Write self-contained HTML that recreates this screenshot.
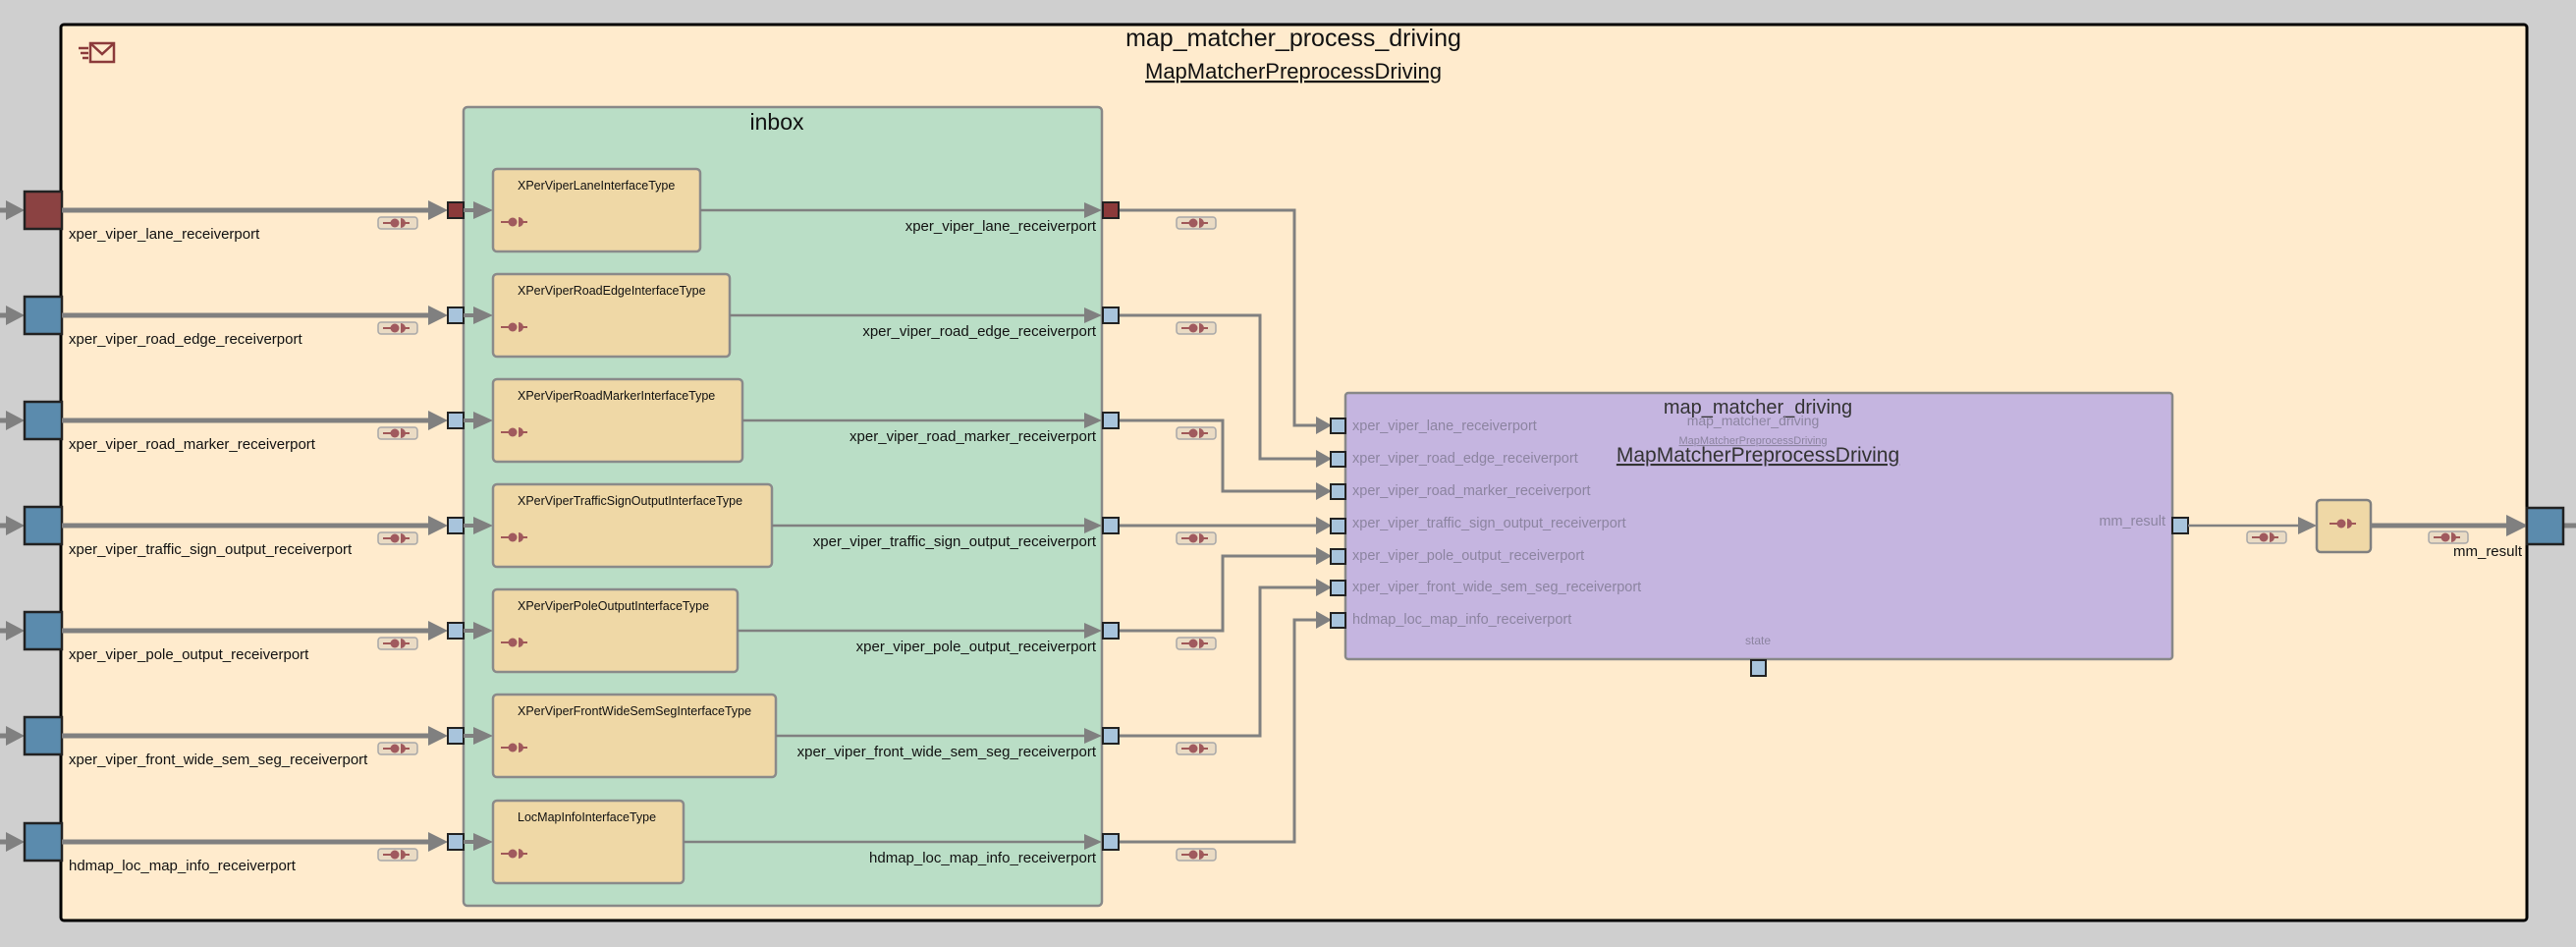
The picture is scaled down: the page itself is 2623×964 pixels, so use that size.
<!DOCTYPE html>
<html><head><meta charset="utf-8"><style>
html,body{margin:0;padding:0;background:#cfcfcf;}
svg{display:block;font-family:"Liberation Sans",Arial,sans-serif;}
</style></head><body>
<svg width="2623" height="964" viewBox="0 0 2623 964" xmlns="http://www.w3.org/2000/svg">
<defs>
<g id="ic"><line x1="-12" y1="0" x2="-4" y2="0" stroke="#a05858" stroke-width="2"/><circle cx="0" cy="0" r="4.5" fill="#a05a5e"/><path d="M6,-5 A5,5 0 0 1 6,5 Z" fill="#a05a5e"/><line x1="6" y1="0" x2="15" y2="0" stroke="#a05858" stroke-width="2"/></g>
<g id="chip"><rect x="0" y="0" width="40" height="12" rx="3" fill="#eadbc4" stroke="#a8a8a8" stroke-width="1.5"/><use href="#ic" x="17" y="6"/></g>
</defs>
<rect width="2623" height="964" fill="#cfcfcf"/>
<rect x="62" y="25" width="2511" height="912" rx="3" fill="#ffebcd" stroke="#000" stroke-width="3"/>
<text x="1317" y="47" font-size="25" text-anchor="middle" fill="#111">map_matcher_process_driving</text>
<text x="1317" y="80" font-size="22" text-anchor="middle" fill="#111" text-decoration="underline">MapMatcherPreprocessDriving</text>
<!-- envelope -->
<g stroke="#8b3a3a" stroke-width="2.5" fill="none"><rect x="92" y="44" width="24" height="19"/><polyline points="92,44 104,55 116,44"/><line x1="80" y1="49" x2="90" y2="49"/><line x1="82" y1="54" x2="90" y2="54"/><line x1="84" y1="59" x2="90" y2="59"/></g>
<!-- inbox -->
<rect x="472" y="109" width="650" height="813" rx="4" fill="#badec6" stroke="#888" stroke-width="2.5"/>
<text x="791" y="132" font-size="23" text-anchor="middle" fill="#111">inbox</text>
<!-- map_matcher_driving -->
<rect x="1370" y="400" width="842" height="271" rx="3" fill="#c5b5e0" stroke="#888" stroke-width="2.5"/>
<text x="1790" y="421" font-size="20" text-anchor="middle" fill="#333">map_matcher_driving</text>
<text x="1785" y="433" font-size="14" text-anchor="middle" fill="#8c84a0">map_matcher_driving</text>
<text x="1785" y="452" font-size="11" text-anchor="middle" fill="#8c84a0" text-decoration="underline">MapMatcherPreprocessDriving</text>
<text x="1790" y="470" font-size="21" text-anchor="middle" fill="#333" text-decoration="underline">MapMatcherPreprocessDriving</text>
<text x="1790" y="656" font-size="12" text-anchor="middle" fill="#8c84a0">state</text>
<rect x="1783" y="672" width="15" height="16" fill="#a8c4dc" stroke="#222" stroke-width="2"/>
<g font-size="14.5" fill="#8c84a0">
<text x="1377" y="438">xper_viper_lane_receiverport</text>
<text x="1377" y="471">xper_viper_road_edge_receiverport</text>
<text x="1377" y="504">xper_viper_road_marker_receiverport</text>
<text x="1377" y="537">xper_viper_traffic_sign_output_receiverport</text>
<text x="1377" y="570">xper_viper_pole_output_receiverport</text>
<text x="1377" y="602">xper_viper_front_wide_sem_seg_receiverport</text>
<text x="1377" y="635">hdmap_loc_map_info_receiverport</text>
<text x="2205" y="535" text-anchor="end">mm_result</text>
</g>
<!-- connectors to mm -->
<g stroke="#808080" stroke-width="3" fill="none">
<polyline points="1139,214 1318,214 1318,433 1342,433"/>
<polyline points="1139,321 1283,321 1283,467 1342,467"/>
<polyline points="1139,428 1245,428 1245,500 1342,500"/>
<polyline points="1139,535 1342,535"/>
<polyline points="1139,642 1245,642 1245,566 1342,566"/>
<polyline points="1139,749 1283,749 1283,598 1342,598"/>
<polyline points="1139,857 1318,857 1318,631 1342,631"/>
</g>
<g fill="#808080">
<polygon points="1340,424 1356,433 1340,442"/>
<polygon points="1340,458 1356,467 1340,476"/>
<polygon points="1340,491 1356,500 1340,509"/>
<polygon points="1340,526 1356,535 1340,544"/>
<polygon points="1340,557 1356,566 1340,575"/>
<polygon points="1340,589 1356,598 1340,607"/>
<polygon points="1340,622 1356,631 1340,640"/>
</g>
<g fill="#a8c4dc" stroke="#222" stroke-width="2">
<rect x="1355" y="426" width="15" height="15"/><rect x="1355" y="460" width="15" height="15"/><rect x="1355" y="493" width="15" height="15"/><rect x="1355" y="528" width="15" height="15"/><rect x="1355" y="559" width="15" height="15"/><rect x="1355" y="591" width="15" height="15"/><rect x="1355" y="624" width="15" height="15"/>
</g>
<!-- mm output -->
<rect x="2212" y="527" width="16" height="16" fill="#a8c4dc" stroke="#222" stroke-width="2"/>
<line x1="2228" y1="535" x2="2345" y2="535" stroke="#808080" stroke-width="2.5"/>
<polygon points="2340,526 2359,535 2340,544" fill="#808080"/>
<use href="#chip" x="2288" y="541"/>
<rect x="2359" y="509" width="55" height="53" rx="4" fill="#efd8a6" stroke="#808080" stroke-width="2.5"/>
<use href="#ic" x="2384" y="533"/>
<line x1="2414" y1="535" x2="2555" y2="535" stroke="#808080" stroke-width="5"/>
<polygon points="2552,524 2574,535 2552,546" fill="#808080"/>
<use href="#chip" x="2473" y="541"/>
<line x1="2610" y1="535" x2="2623" y2="535" stroke="#808080" stroke-width="5"/>
<rect x="2573" y="517" width="37" height="37" fill="#5b8bad" stroke="#222" stroke-width="2.5"/>
<text x="2568" y="566" font-size="15" text-anchor="end" fill="#111">mm_result</text>

<g>
<line x1="0" y1="214" x2="12" y2="214" stroke="#808080" stroke-width="5"/><polygon points="6,204 25,214 6,224" fill="#808080"/>
<rect x="25" y="195" width="38" height="38" fill="#8b4242" stroke="#222" stroke-width="2.5"/>
<text x="70" y="243" font-size="15" fill="#111">xper_viper_lane_receiverport</text>
<line x1="63" y1="214" x2="440" y2="214" stroke="#808080" stroke-width="5"/><polygon points="436,204 456,214 436,224" fill="#808080"/>
<use href="#chip" x="385" y="221"/>
<rect x="456" y="206" width="16" height="16" fill="#8b3a3a" stroke="#222" stroke-width="2"/>
<line x1="472" y1="214" x2="488" y2="214" stroke="#808080" stroke-width="4"/><polygon points="482,205 502,214 482,223" fill="#808080"/>
<rect x="502" y="172" width="211" height="84" rx="4" fill="#efd8a6" stroke="#8a8a8a" stroke-width="2.5"/>
<text x="527" y="193" font-size="12.5" fill="#111">XPerViperLaneInterfaceType</text>
<use href="#ic" x="522" y="226"/>
<line x1="713" y1="214" x2="1108" y2="214" stroke="#808080" stroke-width="2.5"/><polygon points="1104,206 1122,214 1104,222" fill="#808080"/>
<rect x="1123" y="206" width="16" height="16" fill="#8b3a3a" stroke="#222" stroke-width="2"/>
<text x="1116" y="235" font-size="15" text-anchor="end" fill="#111">xper_viper_lane_receiverport</text>
<use href="#chip" x="1198" y="221"/>
</g>
<g>
<line x1="0" y1="321" x2="12" y2="321" stroke="#808080" stroke-width="5"/><polygon points="6,311 25,321 6,331" fill="#808080"/>
<rect x="25" y="302" width="38" height="38" fill="#5b8bad" stroke="#222" stroke-width="2.5"/>
<text x="70" y="350" font-size="15" fill="#111">xper_viper_road_edge_receiverport</text>
<line x1="63" y1="321" x2="440" y2="321" stroke="#808080" stroke-width="5"/><polygon points="436,311 456,321 436,331" fill="#808080"/>
<use href="#chip" x="385" y="328"/>
<rect x="456" y="313" width="16" height="16" fill="#a8c4dc" stroke="#222" stroke-width="2"/>
<line x1="472" y1="321" x2="488" y2="321" stroke="#808080" stroke-width="4"/><polygon points="482,312 502,321 482,330" fill="#808080"/>
<rect x="502" y="279" width="241" height="84" rx="4" fill="#efd8a6" stroke="#8a8a8a" stroke-width="2.5"/>
<text x="527" y="300" font-size="12.5" fill="#111">XPerViperRoadEdgeInterfaceType</text>
<use href="#ic" x="522" y="333"/>
<line x1="743" y1="321" x2="1108" y2="321" stroke="#808080" stroke-width="2.5"/><polygon points="1104,313 1122,321 1104,329" fill="#808080"/>
<rect x="1123" y="313" width="16" height="16" fill="#a8c4dc" stroke="#222" stroke-width="2"/>
<text x="1116" y="342" font-size="15" text-anchor="end" fill="#111">xper_viper_road_edge_receiverport</text>
<use href="#chip" x="1198" y="328"/>
</g>
<g>
<line x1="0" y1="428" x2="12" y2="428" stroke="#808080" stroke-width="5"/><polygon points="6,418 25,428 6,438" fill="#808080"/>
<rect x="25" y="409" width="38" height="38" fill="#5b8bad" stroke="#222" stroke-width="2.5"/>
<text x="70" y="457" font-size="15" fill="#111">xper_viper_road_marker_receiverport</text>
<line x1="63" y1="428" x2="440" y2="428" stroke="#808080" stroke-width="5"/><polygon points="436,418 456,428 436,438" fill="#808080"/>
<use href="#chip" x="385" y="435"/>
<rect x="456" y="420" width="16" height="16" fill="#a8c4dc" stroke="#222" stroke-width="2"/>
<line x1="472" y1="428" x2="488" y2="428" stroke="#808080" stroke-width="4"/><polygon points="482,419 502,428 482,437" fill="#808080"/>
<rect x="502" y="386" width="254" height="84" rx="4" fill="#efd8a6" stroke="#8a8a8a" stroke-width="2.5"/>
<text x="527" y="407" font-size="12.5" fill="#111">XPerViperRoadMarkerInterfaceType</text>
<use href="#ic" x="522" y="440"/>
<line x1="756" y1="428" x2="1108" y2="428" stroke="#808080" stroke-width="2.5"/><polygon points="1104,420 1122,428 1104,436" fill="#808080"/>
<rect x="1123" y="420" width="16" height="16" fill="#a8c4dc" stroke="#222" stroke-width="2"/>
<text x="1116" y="449" font-size="15" text-anchor="end" fill="#111">xper_viper_road_marker_receiverport</text>
<use href="#chip" x="1198" y="435"/>
</g>
<g>
<line x1="0" y1="535" x2="12" y2="535" stroke="#808080" stroke-width="5"/><polygon points="6,525 25,535 6,545" fill="#808080"/>
<rect x="25" y="516" width="38" height="38" fill="#5b8bad" stroke="#222" stroke-width="2.5"/>
<text x="70" y="564" font-size="15" fill="#111">xper_viper_traffic_sign_output_receiverport</text>
<line x1="63" y1="535" x2="440" y2="535" stroke="#808080" stroke-width="5"/><polygon points="436,525 456,535 436,545" fill="#808080"/>
<use href="#chip" x="385" y="542"/>
<rect x="456" y="527" width="16" height="16" fill="#a8c4dc" stroke="#222" stroke-width="2"/>
<line x1="472" y1="535" x2="488" y2="535" stroke="#808080" stroke-width="4"/><polygon points="482,526 502,535 482,544" fill="#808080"/>
<rect x="502" y="493" width="284" height="84" rx="4" fill="#efd8a6" stroke="#8a8a8a" stroke-width="2.5"/>
<text x="527" y="514" font-size="12.5" fill="#111">XPerViperTrafficSignOutputInterfaceType</text>
<use href="#ic" x="522" y="547"/>
<line x1="786" y1="535" x2="1108" y2="535" stroke="#808080" stroke-width="2.5"/><polygon points="1104,527 1122,535 1104,543" fill="#808080"/>
<rect x="1123" y="527" width="16" height="16" fill="#a8c4dc" stroke="#222" stroke-width="2"/>
<text x="1116" y="556" font-size="15" text-anchor="end" fill="#111">xper_viper_traffic_sign_output_receiverport</text>
<use href="#chip" x="1198" y="542"/>
</g>
<g>
<line x1="0" y1="642" x2="12" y2="642" stroke="#808080" stroke-width="5"/><polygon points="6,632 25,642 6,652" fill="#808080"/>
<rect x="25" y="623" width="38" height="38" fill="#5b8bad" stroke="#222" stroke-width="2.5"/>
<text x="70" y="671" font-size="15" fill="#111">xper_viper_pole_output_receiverport</text>
<line x1="63" y1="642" x2="440" y2="642" stroke="#808080" stroke-width="5"/><polygon points="436,632 456,642 436,652" fill="#808080"/>
<use href="#chip" x="385" y="649"/>
<rect x="456" y="634" width="16" height="16" fill="#a8c4dc" stroke="#222" stroke-width="2"/>
<line x1="472" y1="642" x2="488" y2="642" stroke="#808080" stroke-width="4"/><polygon points="482,633 502,642 482,651" fill="#808080"/>
<rect x="502" y="600" width="249" height="84" rx="4" fill="#efd8a6" stroke="#8a8a8a" stroke-width="2.5"/>
<text x="527" y="621" font-size="12.5" fill="#111">XPerViperPoleOutputInterfaceType</text>
<use href="#ic" x="522" y="654"/>
<line x1="751" y1="642" x2="1108" y2="642" stroke="#808080" stroke-width="2.5"/><polygon points="1104,634 1122,642 1104,650" fill="#808080"/>
<rect x="1123" y="634" width="16" height="16" fill="#a8c4dc" stroke="#222" stroke-width="2"/>
<text x="1116" y="663" font-size="15" text-anchor="end" fill="#111">xper_viper_pole_output_receiverport</text>
<use href="#chip" x="1198" y="649"/>
</g>
<g>
<line x1="0" y1="749" x2="12" y2="749" stroke="#808080" stroke-width="5"/><polygon points="6,739 25,749 6,759" fill="#808080"/>
<rect x="25" y="730" width="38" height="38" fill="#5b8bad" stroke="#222" stroke-width="2.5"/>
<text x="70" y="778" font-size="15" fill="#111">xper_viper_front_wide_sem_seg_receiverport</text>
<line x1="63" y1="749" x2="440" y2="749" stroke="#808080" stroke-width="5"/><polygon points="436,739 456,749 436,759" fill="#808080"/>
<use href="#chip" x="385" y="756"/>
<rect x="456" y="741" width="16" height="16" fill="#a8c4dc" stroke="#222" stroke-width="2"/>
<line x1="472" y1="749" x2="488" y2="749" stroke="#808080" stroke-width="4"/><polygon points="482,740 502,749 482,758" fill="#808080"/>
<rect x="502" y="707" width="288" height="84" rx="4" fill="#efd8a6" stroke="#8a8a8a" stroke-width="2.5"/>
<text x="527" y="728" font-size="12.5" fill="#111">XPerViperFrontWideSemSegInterfaceType</text>
<use href="#ic" x="522" y="761"/>
<line x1="790" y1="749" x2="1108" y2="749" stroke="#808080" stroke-width="2.5"/><polygon points="1104,741 1122,749 1104,757" fill="#808080"/>
<rect x="1123" y="741" width="16" height="16" fill="#a8c4dc" stroke="#222" stroke-width="2"/>
<text x="1116" y="770" font-size="15" text-anchor="end" fill="#111">xper_viper_front_wide_sem_seg_receiverport</text>
<use href="#chip" x="1198" y="756"/>
</g>
<g>
<line x1="0" y1="857" x2="12" y2="857" stroke="#808080" stroke-width="5"/><polygon points="6,847 25,857 6,867" fill="#808080"/>
<rect x="25" y="838" width="38" height="38" fill="#5b8bad" stroke="#222" stroke-width="2.5"/>
<text x="70" y="886" font-size="15" fill="#111">hdmap_loc_map_info_receiverport</text>
<line x1="63" y1="857" x2="440" y2="857" stroke="#808080" stroke-width="5"/><polygon points="436,847 456,857 436,867" fill="#808080"/>
<use href="#chip" x="385" y="864"/>
<rect x="456" y="849" width="16" height="16" fill="#a8c4dc" stroke="#222" stroke-width="2"/>
<line x1="472" y1="857" x2="488" y2="857" stroke="#808080" stroke-width="4"/><polygon points="482,848 502,857 482,866" fill="#808080"/>
<rect x="502" y="815" width="194" height="84" rx="4" fill="#efd8a6" stroke="#8a8a8a" stroke-width="2.5"/>
<text x="527" y="836" font-size="12.5" fill="#111">LocMapInfoInterfaceType</text>
<use href="#ic" x="522" y="869"/>
<line x1="696" y1="857" x2="1108" y2="857" stroke="#808080" stroke-width="2.5"/><polygon points="1104,849 1122,857 1104,865" fill="#808080"/>
<rect x="1123" y="849" width="16" height="16" fill="#a8c4dc" stroke="#222" stroke-width="2"/>
<text x="1116" y="878" font-size="15" text-anchor="end" fill="#111">hdmap_loc_map_info_receiverport</text>
<use href="#chip" x="1198" y="864"/>
</g>
</svg>
</body></html>
